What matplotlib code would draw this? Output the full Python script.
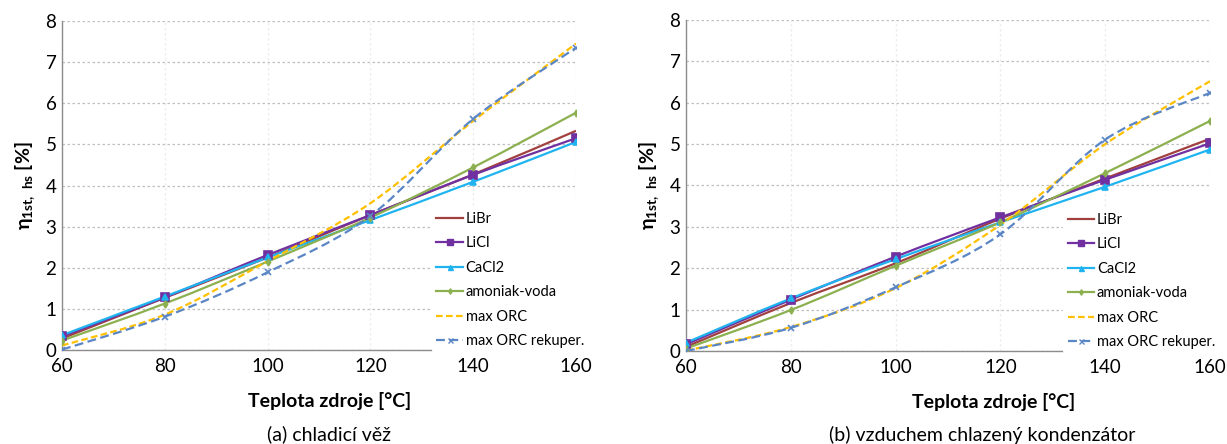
import numpy as np
import matplotlib
matplotlib.use('Agg')
import matplotlib.pyplot as plt
from matplotlib.path import Path
from matplotlib.patches import PathPatch
from matplotlib.lines import Line2D

plt.rcParams['font.family'] = ['Lato', 'DejaVu Sans']
plt.rcParams['mathtext.fontset'] = 'custom'
plt.rcParams['mathtext.rm'] = 'Lato'
plt.rcParams['mathtext.bf'] = 'Lato:bold'

teplota = [60, 80, 100, 120, 140, 160]
nazvy = ['LiBr', 'LiCl', 'CaCl2', 'amoniak-voda', 'max ORC', 'max ORC rekuper.']

# (a) chladici vez
a_libr = [0.28, 1.27, 2.25, 3.28, 4.27, 5.33]
a_licl = [0.33, 1.28, 2.31, 3.28, 4.26, 5.15]
a_cacl2 = [0.36, 1.30, 2.25, 3.16, 4.09, 5.06]
a_amoniak = [0.23, 1.13, 2.15, 3.22, 4.44, 5.77]
a_orc = [0.11, 0.86, 2.16, 3.57, 5.57, 7.45]
a_rekup = [0.01, 0.81, 1.89, 3.26, 5.62, 7.35]

# (b) vzduchem chlazeny kondenzator
b_libr = [0.10, 1.16, 2.12, 3.20, 4.17, 5.13]
b_licl = [0.16, 1.24, 2.28, 3.23, 4.14, 5.02]
b_cacl2 = [0.20, 1.27, 2.22, 3.11, 3.97, 4.87]
b_amoniak = [0.06, 0.99, 2.06, 3.11, 4.30, 5.56]
b_orc = [0.01, 0.58, 1.52, 3.05, 5.00, 6.52]
b_rekup = [0.00, 0.56, 1.54, 2.82, 5.11, 6.24]

styly = [
    dict(color='#A0403F', marker=None, ls='-', ms=0),
    dict(color='#7030A0', marker='s', ls='-', ms=5.5),
    dict(color='#1FB4F0', marker='^', ls='-', ms=4.5),
    dict(color='#8CB050', marker='d', ls='-', ms=3.5),
    dict(color='#FFC000', marker=None, ls=(0, (3, 1.5)), ms=0),
    dict(color='#5B86C5', marker='x', ls=(0, (4, 2)), ms=4.5),
]


def hladka(ax, x, y, st):
    # excel-like smoothed line (bezier)
    p = np.column_stack([x, y]).astype(float)
    n = len(p)
    verts = [p[0]]
    codes = [Path.MOVETO]
    for i in range(n - 1):
        p0 = p[i - 1] if i > 0 else p[i]
        p3 = p[i + 2] if i + 2 < n else p[i + 1]
        c1 = p[i] + (p[i + 1] - p0) / 6
        c2 = p[i + 1] - (p3 - p[i]) / 6
        verts += [c1, c2, p[i + 1]]
        codes += [Path.CURVE4] * 3
    ax.add_patch(PathPatch(Path(verts, codes), fill=False, edgecolor=st['color'],
                           lw=1.6, linestyle=st['ls'], zorder=3))
    if st['marker']:
        ax.plot(x, y, ls='none', marker=st['marker'], color=st['color'],
                ms=st['ms'], mew=1.2, zorder=4)


def graf(ax, data, caption, xl_x, cap_x, leg_x):
    for y, st in zip(data, styly):
        hladka(ax, teplota, y, st)
    ax.set_xlim(60, 160)
    ax.set_ylim(0, 8)
    ax.set_xticks(teplota)
    ax.set_yticks(range(9))
    ax.tick_params(labelsize=13.5, length=0)
    ax.tick_params(axis='x', pad=6)
    ax.tick_params(axis='y', pad=4)
    ax.grid(axis='y', color='#BFBFBF', ls=(0, (2, 2)), lw=0.9)
    ax.grid(axis='x', color='#EDEDED', ls=(0, (2, 2)), lw=0.9)
    ax.set_axisbelow(True)
    for s in ['top', 'right']:
        ax.spines[s].set_visible(False)
    for s in ['left', 'bottom']:
        ax.spines[s].set_color('#8C8C8C')
        ax.spines[s].set_linewidth(1.0)
    ax.set_ylabel(r'$\mathbf{\eta_{1st,\ hs}}$ [%]', fontsize=14, fontweight='bold', labelpad=6)
    ax.text(xl_x, -0.155, 'Teplota zdroje [°C]', transform=ax.transAxes, ha='center',
            va='center', fontsize=14, fontweight='bold')
    ax.text(cap_x, -0.255, caption, transform=ax.transAxes, ha='center', va='center',
            fontsize=14)
    handles = [Line2D([], [], color=st['color'], ls=st['ls'], lw=1.6,
                      marker=st['marker'], ms=st['ms'] * 0.8, mew=1.0) for st in styly]
    leg = ax.legend(handles, nazvy, loc='lower left', bbox_to_anchor=(leg_x, -0.008),
                    fontsize=10.5, frameon=True, framealpha=1, edgecolor='none',
                    facecolor='white', handlelength=1.8, handletextpad=0.2,
                    labelspacing=0.72, borderpad=0.3, borderaxespad=0)
    leg.set_zorder(5)


fig = plt.figure(figsize=(12.27, 4.44), dpi=100)
ax1 = fig.add_axes([62 / 1227, 94 / 444, 514 / 1227, 329 / 444])
ax2 = fig.add_axes([686 / 1227, 93 / 444, 524 / 1227, 331 / 444])

graf(ax1, [a_libr, a_licl, a_cacl2, a_amoniak, a_orc, a_rekup], '(a) chladicí věž',
     0.52, 0.52, 0.72)
graf(ax2, [b_libr, b_licl, b_cacl2, b_amoniak, b_orc, b_rekup],
     '(b) vzduchem chlazený kondenzátor', 0.587, 0.566, 0.72)

fig.savefig('out.png', dpi=100)
